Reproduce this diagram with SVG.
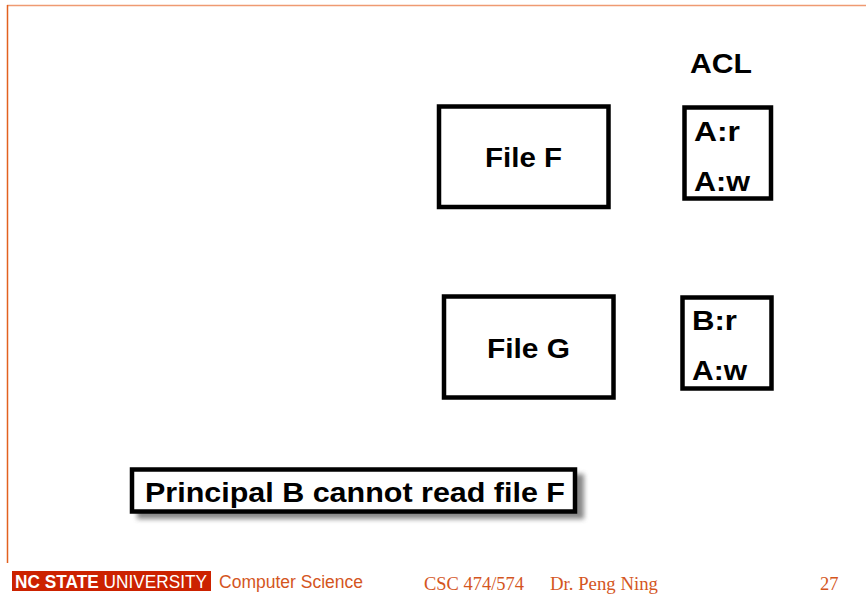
<svg xmlns="http://www.w3.org/2000/svg" width="866" height="606" viewBox="0 0 866 606">
<style>
.box{fill:#fff;stroke:#000;stroke-width:4.5}
.t{font-family:"Liberation Sans",Arial,sans-serif;font-weight:bold;fill:#000}
.ft{font-family:"Liberation Serif","Times New Roman",serif;fill:#D4561E;font-size:18.5px}
</style>
<defs>
<filter id="sh" x="-10%" y="-30%" width="120%" height="160%">
<feGaussianBlur stdDeviation="2.5"/>
</filter>
</defs>
<rect width="866" height="606" fill="#fff"/>
<line x1="7" y1="5.5" x2="866" y2="5.5" stroke="#EF9A72" stroke-width="1.5"/>
<line x1="7.5" y1="5" x2="7.5" y2="563" stroke="#E2611F" stroke-width="1.5"/>
<text class="t" x="690" y="73" font-size="28" textLength="62" lengthAdjust="spacingAndGlyphs">ACL</text>
<g id="fileF">
<rect class="box" x="439" y="106.5" width="169.5" height="100.5"/>
<text class="t" x="485" y="167" font-size="27" textLength="77" lengthAdjust="spacingAndGlyphs">File F</text>
</g>
<g id="aclF">
<rect class="box" x="684.5" y="107.5" width="86.5" height="91"/>
<text class="t" x="694" y="141" font-size="27" textLength="46" lengthAdjust="spacingAndGlyphs">A:r</text>
<text class="t" x="694" y="191" font-size="27" textLength="56" lengthAdjust="spacingAndGlyphs">A:w</text>
</g>
<g id="fileG">
<rect class="box" x="444" y="296.5" width="169.5" height="101"/>
<text class="t" x="487" y="358" font-size="27" textLength="83" lengthAdjust="spacingAndGlyphs">File G</text>
</g>
<g id="aclG">
<rect class="box" x="682.5" y="297.5" width="89" height="91"/>
<text class="t" x="692" y="330" font-size="27" textLength="45" lengthAdjust="spacingAndGlyphs">B:r</text>
<text class="t" x="692" y="380" font-size="27" textLength="55" lengthAdjust="spacingAndGlyphs">A:w</text>
</g>
<g id="note">
<rect x="137" y="474" width="447" height="45" fill="#555" opacity="0.7" filter="url(#sh)"/>
<rect class="box" x="132" y="469.5" width="443" height="42" stroke-width="4"/>
<text class="t" x="145" y="502" font-size="28" textLength="420" lengthAdjust="spacingAndGlyphs">Principal B cannot read file F</text>
</g>
<g id="connectors"></g>
<g id="footer">
<rect x="12" y="571" width="199" height="20" fill="#CC2200"/>
<text x="15" y="588" font-family="'Liberation Sans',Arial,sans-serif" font-size="18" fill="#fff" textLength="192" lengthAdjust="spacingAndGlyphs"><tspan font-weight="bold">NC STATE</tspan> UNIVERSITY</text>
<text x="219" y="588" font-family="'Liberation Sans',Arial,sans-serif" font-size="18" fill="#D4561E" textLength="144" lengthAdjust="spacingAndGlyphs">Computer Science</text>
<text class="ft" x="424" y="590" textLength="100" lengthAdjust="spacingAndGlyphs">CSC 474/574</text>
<text class="ft" x="550" y="590" textLength="108" lengthAdjust="spacingAndGlyphs">Dr. Peng Ning</text>
<text class="ft" x="820" y="590">27</text>
</g>
</svg>
